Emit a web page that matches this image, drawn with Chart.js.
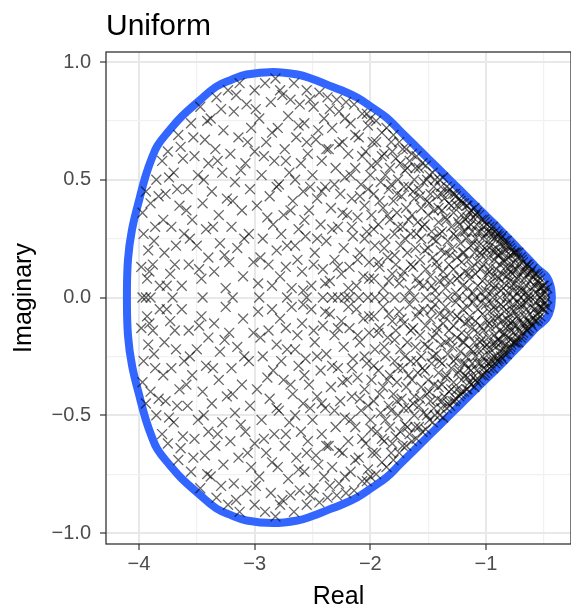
<!DOCTYPE html>
<html>
<head>
<meta charset="utf-8">
<title>Uniform</title>
<script src="https://cdn.jsdelivr.net/npm/chart.js@4.4.1/dist/chart.umd.min.js"></script>
<style>
    html, body { margin: 0; padding: 0; background: #fff; overflow: hidden; }
    #wrap { width: 580px; height: 611px; }
</style>
</head>
<body>
<div id="wrap"><canvas id="eigenChart" width="580" height="611"></canvas></div>
<script>
const FONT = '"Liberation Sans", Arial, Helvetica, sans-serif';

const chartTitle = "Uniform";
const xTitle = "Real";
const yTitle = "Imaginary";

const xTicks = [-4, -3.5, -3, -2.5, -2, -1.5, -1, -0.5];
const yTicks = [-1, -0.75, -0.5, -0.25, 0, 0.25, 0.5, 0.75, 1];

// eigenvalues with positive imaginary part, [re, im]
const leftBulk = [
    [-3.98,0.13],[-3.96,0.27],[-3.93,0.08],[-3.92,0.20],[-3.90,0.40],[-3.88,0.14],[-3.86,0.30],[-3.85,0.50],[-3.82,0.05],[-3.80,0.58],
    [-3.78,0.19],[-3.77,0.44],[-3.75,0.62],[-3.73,0.10],[-3.72,0.30],[-3.70,0.53],[-3.68,0.22],[-3.66,0.69],[-3.65,0.39],[-3.63,0.05],[-3.62,0.59],[-3.61,0.27],
    [-3.58,0.46],[-3.57,0.14],[-3.55,0.74],[-3.54,0.33],[-3.52,0.60],[-3.50,0.22],[-3.49,0.52],[-3.47,0.81],[-3.46,0.08],[-3.45,0.40],[-3.43,0.67],[-3.42,0.29],[-3.40,0.17],[-3.40,0.57],
    [-3.38,0.76],[-3.37,0.45],[-3.35,0.11],[-3.34,0.63],[-3.33,0.85],[-3.31,0.35],[-3.30,0.23],[-3.28,0.53],[-3.27,0.71],[-3.25,0.04],[-3.24,0.42],[-3.23,0.88],[-3.22,0.15],[-3.21,0.61],[-3.20,0.30],
    [-3.18,0.79],[-3.17,0.49],[-3.15,0.21],[-3.14,0.68],[-3.13,0.91],[-3.11,0.37],[-3.10,0.09],[-3.08,0.57],[-3.07,0.82],[-3.05,0.27],[-3.04,0.46],[-3.03,0.72],[-3.01,0.15],[-3.00,0.62],[-3.00,0.88],
    [-3.97,0.36],[-3.94,0.45],[-3.91,0.11],[-3.87,0.24],[-3.83,0.43],[-3.79,0.33],[-3.76,0.05],[-3.74,0.51],[-3.69,0.14],[-3.67,0.46],[-3.64,0.64],[-3.59,0.37],[-3.56,0.25],
    [-3.53,0.68],[-3.48,0.12],[-3.44,0.50],[-3.41,0.75],[-3.36,0.30],[-3.32,0.58],[-3.29,0.80],[-3.26,0.18],[-3.19,0.41],[-3.16,0.86],[-3.12,0.54],[-3.09,0.25],[-3.06,0.66]
];

const centreBulk = [
    [-2.98,0.39],[-2.97,0.06],[-2.96,0.76],[-2.94,0.52],[-2.93,0.25],[-2.91,0.91],[-2.90,0.66],[-2.88,0.14],[-2.87,0.43],[-2.86,0.83],[-2.84,0.31],[-2.83,0.58],[-2.82,0.93],[-2.81,0.20],[-2.80,0.72],
    [-2.79,0.48],[-2.78,0.09],[-2.76,0.86],[-2.75,0.35],[-2.74,0.63],[-2.72,0.22],[-2.71,0.77],[-2.70,0.53],[-2.68,0.04],[-2.67,0.41],[-2.66,0.91],[-2.64,0.68],[-2.63,0.16],[-2.62,0.29],[-2.61,0.82],[-2.60,0.57],
    [-2.59,0.11],[-2.58,0.45],[-2.57,0.74],[-2.56,0.26],[-2.55,0.88],[-2.54,0.61],[-2.53,0.37],[-2.51,0.05],[-2.50,0.52],[-2.49,0.81],[-2.48,0.19],[-2.47,0.67],[-2.46,0.42],[-2.44,0.87],[-2.43,0.31],[-2.42,0.58],[-2.41,0.12],[-2.40,0.76],
    [-2.39,0.47],[-2.38,0.24],[-2.37,0.85],[-2.36,0.63],[-2.35,0.07],[-2.34,0.38],[-2.33,0.72],[-2.31,0.16],[-2.30,0.55],[-2.29,0.84],[-2.28,0.30],[-2.27,0.79],[-2.26,0.44],[-2.25,0.10],[-2.24,0.66],[-2.23,0.21],[-2.22,0.51],[-2.21,0.83],[-2.20,0.35],
    [-2.19,0.61],[-2.18,0.13],[-2.17,0.74],[-2.16,0.42],[-2.15,0.26],[-2.14,0.82],[-2.13,0.55],[-2.12,0.05],[-2.11,0.34],[-2.10,0.68],[-2.09,0.19],[-2.08,0.48],[-2.07,0.78],[-2.06,0.09],[-2.05,0.39],[-2.04,0.62],[-2.03,0.28],[-2.02,0.73],[-2.01,0.15],[-2.00,0.52],[-2.00,0.76],[-1.99,0.35],
    [-2.99,0.80],[-2.95,0.17],[-2.92,0.60],[-2.89,0.34],[-2.85,0.05],[-2.85,0.70],[-2.81,0.47],[-2.78,0.88],[-2.77,0.27],[-2.73,0.13],[-2.73,0.58],[-2.69,0.84],[-2.69,0.37],[-2.65,0.50],[-2.65,0.22],
    [-2.62,0.73],[-2.58,0.03],[-2.57,0.33],[-2.55,0.66],[-2.52,0.47],[-2.52,0.84],[-2.49,0.14],[-2.46,0.25],[-2.45,0.71],[-2.42,0.45],[-2.39,0.06],[-2.38,0.63],[-2.35,0.80],[-2.33,0.29],[-2.31,0.48],
    [-2.28,0.13],[-2.27,0.65],[-2.24,0.36],[-2.22,0.76],[-2.19,0.04],[-2.17,0.52],[-2.16,0.30],[-2.13,0.69],[-2.11,0.16],[-2.09,0.43],[-2.07,0.60],[-2.05,0.25],[-2.03,0.78],[-2.02,0.46],[-2.01,0.08]
];

const rightBulk = [
    [-1.98,0.66],[-1.97,0.08],[-1.97,0.44],[-1.96,0.22],[-1.95,0.75],[-1.94,0.57],[-1.93,0.31],[-1.92,0.13],[-1.91,0.49],[-1.90,0.70],[-1.89,0.38],[-1.89,0.04],[-1.88,0.61],[-1.87,0.25],[-1.86,0.72],[-1.85,0.17],[-1.84,0.46],[-1.83,0.55],[-1.83,0.33],[-1.82,0.66],[-1.81,0.10],[-1.80,0.41],[-1.80,0.69],[-1.79,0.27],
    [-1.78,0.59],[-1.78,0.14],[-1.77,0.36],[-1.76,0.50],[-1.75,0.66],[-1.75,0.06],[-1.74,0.22],[-1.73,0.43],[-1.72,0.63],[-1.72,0.30],[-1.71,0.11],[-1.70,0.54],[-1.69,0.38],[-1.69,0.63],[-1.68,0.19],[-1.67,0.47],[-1.66,0.03],[-1.66,0.58],[-1.65,0.27],[-1.64,0.35],[-1.64,0.61],[-1.63,0.13],[-1.62,0.50],[-1.62,0.42],[-1.61,0.21],[-1.60,0.60],[-1.60,0.08],[-1.59,0.32],
    [-1.58,0.46],[-1.58,0.55],[-1.57,0.16],[-1.56,0.38],[-1.56,0.25],[-1.55,0.57],[-1.54,0.05],[-1.54,0.49],[-1.53,0.31],[-1.52,0.12],[-1.52,0.56],[-1.51,0.41],[-1.50,0.21],[-1.50,0.35],[-1.49,0.52],[-1.48,0.09],[-1.48,0.44],[-1.47,0.28],[-1.46,0.53],[-1.46,0.17],[-1.45,0.37],[-1.44,0.03],[-1.44,0.50],[-1.43,0.24],[-1.42,0.43],[-1.42,0.13],[-1.41,0.32],[-1.40,0.50],[-1.40,0.07],[-1.39,0.47],[-1.39,0.20],
    [-1.38,0.37],[-1.38,0.28],[-1.37,0.11],[-1.37,0.51],[-1.36,0.42],[-1.35,0.19],[-1.35,0.04],[-1.34,0.33],[-1.34,0.47],[-1.33,0.24],[-1.32,0.14],[-1.32,0.40],[-1.31,0.46],[-1.31,0.07],[-1.30,0.30],[-1.29,0.21],[-1.29,0.44],[-1.28,0.36],[-1.28,0.12],[-1.27,0.44],[-1.26,0.26],[-1.26,0.02],[-1.25,0.17],[-1.25,0.39],[-1.24,0.32],[-1.23,0.09],[-1.23,0.42],[-1.22,0.23],[-1.22,0.41],[-1.21,0.15],[-1.21,0.35],[-1.20,0.28],[-1.20,0.05],[-1.19,0.40],
    [-1.99,0.56],[-1.97,0.29],[-1.95,0.66],[-1.93,0.15],[-1.92,0.41],[-1.90,0.60],[-1.88,0.21],[-1.87,0.52],[-1.85,0.35],[-1.84,0.07],[-1.82,0.48],[-1.81,0.62],[-1.79,0.18],[-1.77,0.44],
    [-1.76,0.30],[-1.74,0.57],[-1.73,0.09],[-1.71,0.47],[-1.70,0.25],[-1.68,0.55],[-1.67,0.33],[-1.65,0.14],[-1.63,0.45],[-1.61,0.55],[-1.60,0.27],[-1.58,0.06],[-1.57,0.43],[-1.55,0.30],
    [-1.53,0.20],[-1.51,0.50],[-1.49,0.40],[-1.47,0.05],[-1.46,0.25],[-1.45,0.47],[-1.43,0.15],[-1.41,0.38],[-1.40,0.27],[-1.38,0.44],[-1.36,0.08],[-1.35,0.34],[-1.33,0.45],[-1.31,0.18],
    [-1.30,0.39],[-1.28,0.27],[-1.26,0.43],[-1.25,0.08],[-1.23,0.31],[-1.21,0.40],[-1.20,0.19]
];

const tipBulk = [
    [-1.19,0.19],[-1.18,0.33],[-1.18,0.11],[-1.17,0.39],[-1.17,0.25],[-1.16,0.04],[-1.16,0.39],[-1.15,0.16],[-1.15,0.30],[-1.14,0.36],[-1.14,0.08],[-1.13,0.22],[-1.13,0.37],[-1.12,0.13],[-1.12,0.28],[-1.11,0.34],[-1.11,0.02],[-1.10,0.19],[-1.10,0.38],[-1.09,0.25],
    [-1.09,0.10],[-1.08,0.31],[-1.08,0.36],[-1.07,0.15],[-1.07,0.05],[-1.06,0.22],[-1.06,0.35],[-1.05,0.28],[-1.05,0.12],[-1.04,0.33],[-1.04,0.18],[-1.03,0.07],[-1.03,0.25],[-1.02,0.30],[-1.02,0.14],[-1.01,0.32],[-1.01,0.21],[-1.00,0.03],[-1.00,0.27],[-0.99,0.10],
    [-0.99,0.31],[-0.98,0.17],[-0.98,0.24],[-0.97,0.06],[-0.97,0.30],[-0.96,0.13],[-0.96,0.28],[-0.95,0.20],[-0.95,0.02],[-0.94,0.30],[-0.94,0.09],[-0.93,0.25],[-0.93,0.16],[-0.92,0.28],[-0.92,0.05],[-0.91,0.21],[-0.91,0.12],[-0.90,0.27],[-0.90,0.18],[-0.89,0.08],
    [-0.89,0.26],[-0.88,0.14],[-0.88,0.23],[-0.87,0.03],[-0.87,0.19],[-0.86,0.26],[-0.86,0.10],[-0.85,0.16],[-0.85,0.22],[-0.84,0.06],[-0.84,0.24],[-0.83,0.13],[-0.83,0.20],[-0.82,0.09],[-0.82,0.24],[-0.81,0.17],[-0.81,0.02],[-0.80,0.12],[-0.80,0.22],
    [-0.79,0.07],[-0.79,0.18],[-0.78,0.14],[-0.78,0.20],[-0.77,0.03],[-0.77,0.10],[-0.76,0.19],[-0.76,0.15],[-0.75,0.06],[-0.75,0.19],[-0.74,0.12],[-0.73,0.17],[-0.73,0.02],[-0.72,0.09],[-0.72,0.19],[-0.71,0.14],[-0.70,0.05],[-0.70,0.17],[-0.69,0.11],[-0.68,0.15],
    [-0.68,0.03],[-0.67,0.08],[-0.66,0.13],[-0.65,0.05],[-0.65,0.14],[-0.64,0.10],[-0.63,0.01],[-0.63,0.13],[-0.62,0.07],[-0.61,0.11],[-0.60,0.04],
    [-0.59,0.09],[-0.58,0.10],[-0.57,0.02],[-0.56,0.07],[-0.55,0.09],[-0.54,0.04],[-0.53,0.08],[-0.52,0.01],[-0.51,0.05],[-0.50,0.05],[-0.49,0.02],[-0.47,0.04],
    [-1.18,0.28],[-1.16,0.34],[-1.15,0.10],[-1.13,0.31],[-1.11,0.23],[-1.09,0.35],[-1.07,0.28],[-1.05,0.19],[-1.04,0.02],[-1.02,0.33],
    [-0.99,0.20],[-0.98,0.28],[-0.97,0.11],[-0.96,0.22],[-0.95,0.27],[-0.93,0.04],[-0.92,0.19],[-0.91,0.26],[-0.90,0.09],[-0.88,0.18],[-0.87,0.25],[-0.85,0.04],
    [-0.84,0.15],[-0.83,0.22],[-0.81,0.10],[-0.79,0.21],[-0.78,0.05],[-0.76,0.12],[-0.74,0.19],[-0.73,0.08],[-0.71,0.03],[-0.69,0.16],[-0.67,0.11],[-0.66,0.02],
    [-0.64,0.14],[-0.62,0.10],[-0.60,0.12],[-0.58,0.05],[-0.56,0.10],[-0.54,0.06],[-0.52,0.04],[-0.50,0.03]
];

// purely real eigenvalues
const realAxis = [
    -3.97, -3.94, -3.90, -3.71, -3.45, -3.19, -2.96, -2.72, -2.55, -2.41, -2.33, -2.28, -2.22,
    -2.18, -2.10, -2.02, -1.96, -1.88, -1.79, -1.70, -1.62, -1.52, -1.43, -1.33, -1.24, -1.16,
    -1.09, -1.01, -0.94, -0.88, -0.82, -0.76, -0.70, -0.64, -0.58, -0.53, -0.48
];

// support boundary, traced once round starting from the right tip
const boundaryRe = [
    -0.43, -0.44, -0.475, -0.56, -0.65, -0.76, -0.88, -1.00, -1.14, -1.23, -1.36, -1.49, -1.62, -1.744, -1.86,
    -2.00, -2.115, -2.25, -2.375, -2.50, -2.63, -2.84, -3.07, -3.20, -3.33, -3.48, -3.63, -3.74, -3.84,
    -3.89, -3.94, -3.99, -4.06, -4.095, -4.104,
    -4.095, -4.06, -3.99, -3.94, -3.89, -3.84, -3.74, -3.63, -3.48, -3.33, -3.20, -3.07, -2.84, -2.63, -2.50,
    -2.375, -2.25, -2.115, -2.00, -1.86, -1.744, -1.62, -1.49, -1.36, -1.23, -1.14, -1.00, -0.88, -0.76,
    -0.65, -0.56, -0.475, -0.44, -0.43
];
const boundaryIm = [
    0, 0.045, 0.088, 0.125, 0.172, 0.228, 0.289, 0.347, 0.415, 0.459, 0.522, 0.585, 0.648, 0.708, 0.764,
    0.812, 0.849, 0.88, 0.904, 0.928, 0.947, 0.958, 0.947, 0.925, 0.896, 0.835, 0.769, 0.708, 0.645,
    0.59, 0.52, 0.43, 0.289, 0.161, 0,
    -0.161, -0.289, -0.43, -0.52, -0.59, -0.645, -0.708, -0.769, -0.835, -0.896, -0.925, -0.947, -0.958, -0.947, -0.928,
    -0.904, -0.88, -0.849, -0.812, -0.764, -0.708, -0.648, -0.585, -0.522, -0.459, -0.415, -0.347, -0.289, -0.228,
    -0.172, -0.125, -0.088, -0.045, 0
];

const upperHalf = [...leftBulk, ...centreBulk, ...rightBulk, ...tipBulk];

// complex eigenvalues of a real matrix come in conjugate pairs
const eigenPoints = [
    ...upperHalf.map(([re, im]) => ({ x: re, y: im })),
    ...upperHalf.map(([re, im]) => ({ x: re, y: -im })),
    ...realAxis.map(re => ({ x: re, y: 0 }))
];

const boundaryPoints = boundaryRe.map((re, i) => ({ x: re, y: boundaryIm[i] }));

function isMajor(v, step) {
    return Math.abs(v / step - Math.round(v / step)) < 1e-9;
}

function fmtTick(v, digits) {
    const s = Math.abs(v).toFixed(digits);
    return v < -1e-9 ? "\u2212" + s : s;
}

const panelDecor = {
    id: "panelDecor",
    afterDraw(chart) {
        const { ctx, chartArea: a } = chart;
        ctx.save();
        ctx.strokeStyle = "#333333";
        ctx.lineWidth = 1.3;
        ctx.strokeRect(a.left, a.top, a.right - a.left, a.bottom - a.top);

        ctx.fillStyle = "#000000";
        ctx.textBaseline = "alphabetic";
        ctx.font = "30px " + FONT;
        ctx.textAlign = "left";
        ctx.fillText(chartTitle, a.left, 35);

        ctx.font = "25px " + FONT;
        ctx.textAlign = "center";
        ctx.fillText(xTitle, (a.left + a.right) / 2, 604);

        ctx.translate(31, (a.top + a.bottom) / 2);
        ctx.rotate(-Math.PI / 2);
        ctx.fillText(yTitle, 0, 0);
        ctx.restore();
    }
};

const ctx = document.getElementById("eigenChart").getContext("2d");

new Chart(ctx, {
    type: "scatter",
    data: {
        datasets: [
            {
                data: eigenPoints,
                pointStyle: "crossRot",
                pointRadius: 7,
                pointBorderWidth: 1.3,
                pointBorderColor: "rgba(0, 0, 0, 0.6)",
                pointBackgroundColor: "rgba(0, 0, 0, 0)",
                order: 0
            },
            {
                data: boundaryPoints,
                showLine: true,
                borderColor: "#3366FF",
                borderWidth: 8,
                borderJoinStyle: "round",
                borderCapStyle: "round",
                tension: 0.4,
                pointRadius: 0,
                fill: false,
                order: 1
            }
        ]
    },
    options: {
        responsive: false,
        animation: false,
        events: [],
        layout: { padding: { top: 52, right: 9, left: 0, bottom: 0 } },
        plugins: {
            legend: { display: false },
            tooltip: { enabled: false },
            title: { display: false }
        },
        scales: {
            x: {
                type: "linear",
                min: -4.285,
                max: -0.265,
                afterBuildTicks: scale => { scale.ticks = xTicks.map(v => ({ value: v })); },
                afterFit: scale => { scale.height = 67; },
                border: { display: false },
                grid: {
                    color: c => isMajor(c.tick.value, 1) ? "#e8e8e8" : "#f1f1f1",
                    lineWidth: c => isMajor(c.tick.value, 1) ? 2 : 1.2,
                    tickColor: c => isMajor(c.tick.value, 1) ? "#333333" : "rgba(0,0,0,0)",
                    tickWidth: 1.2,
                    tickLength: 6
                },
                ticks: {
                    padding: 2,
                    color: "#4d4d4d",
                    font: { family: FONT, size: 20 },
                    maxRotation: 0,
                    autoSkip: false,
                    callback: v => isMajor(v, 1) ? fmtTick(v, 0) : ""
                }
            },
            y: {
                type: "linear",
                min: -1.0467,
                max: 1.0425,
                afterBuildTicks: scale => { scale.ticks = yTicks.map(v => ({ value: v })); },
                afterFit: scale => { scale.width = 106; },
                border: { display: false },
                grid: {
                    color: c => isMajor(c.tick.value, 0.5) ? "#e8e8e8" : "#f1f1f1",
                    lineWidth: c => isMajor(c.tick.value, 0.5) ? 2 : 1.2,
                    tickColor: c => isMajor(c.tick.value, 0.5) ? "#333333" : "rgba(0,0,0,0)",
                    tickWidth: 1.2,
                    tickLength: 6
                },
                ticks: {
                    padding: 9,
                    color: "#4d4d4d",
                    font: { family: FONT, size: 20 },
                    autoSkip: false,
                    callback: v => isMajor(v, 0.5) ? fmtTick(v, 1) : ""
                }
            }
        }
    },
    plugins: [panelDecor]
});
</script>
</body>
</html>
